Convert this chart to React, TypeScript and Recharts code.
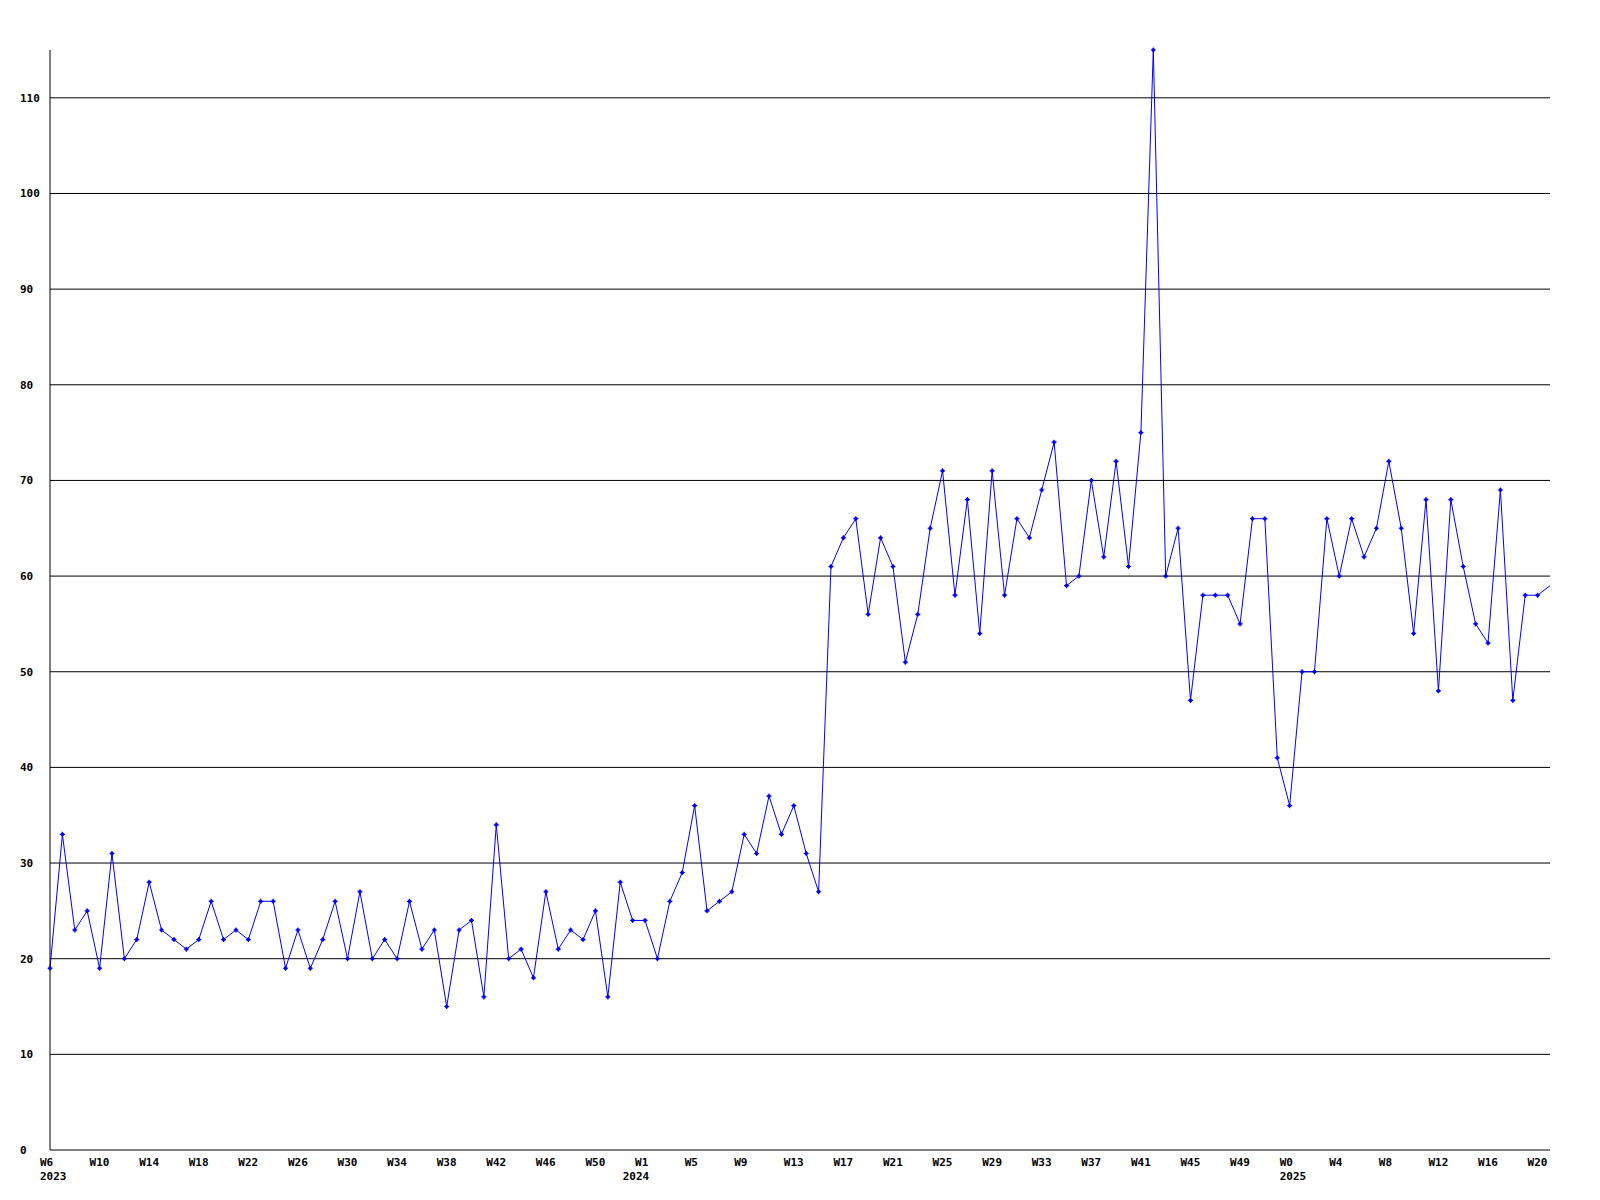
import { LineChart, Line, XAxis, YAxis, ReferenceLine } from "recharts";

// weekly counts, one array per year
const counts2023 = [
  19, 33, 23, 25, 19, 31, 20, 22, 28, 23, 22, 21, 22, 26, 22, 23, 22, 26, 26, 19,
  23, 19, 22, 26, 20, 27, 20, 22, 20, 26, 21, 23, 15, 23, 24, 16, 34, 20, 21, 18,
  27, 21, 23, 22, 25, 16, 28,
];
const counts2024 = [
  24, 24, 20, 26, 29, 36, 25, 26, 27, 33, 31, 37, 33, 36, 31, 27, 61, 64, 66, 56,
  64, 61, 51, 56, 65, 71, 58, 68, 54, 71, 58, 66, 64, 69, 74, 59, 60, 70, 62, 72,
  61, 75, 115, 60, 65, 47, 58, 58, 58, 55, 66, 66, 41,
];
const counts2025 = [36, 50, 50, 66, 60, 66, 62, 65, 72, 65, 54, 68, 48, 68, 61, 55, 53, 69, 47, 58, 58, 59];

const years = ["2023", "2024", "2025"];
const firstWeeks = [6, 0, 0];
const yearCounts = [counts2023, counts2024, counts2025];

const yTicks = [0, 10, 20, 30, 40, 50, 60, 70, 80, 90, 100, 110];
const weekTickStep = 4;

const data = years
  .flatMap((year, y) =>
    yearCounts[y].map((value, k) => ({ year, week: `W${firstWeeks[y] + k}`, value }))
  )
  .map((d, i) => ({ ...d, i }));

const isYearStart = (i: number) => i === 0 || data[i - 1].year !== data[i].year;
const xTicks = data.filter((d) => d.i % weekTickStep === 0 || isYearStart(d.i)).map((d) => d.i);
const lastIndex = data.length - 1;

const FONT = "'DejaVu Sans Mono', monospace";

const XTick = ({ x, y, payload }: any) => {
  const i = payload.value as number;
  const d = data[i];
  if (!d) return null;
  return (
    <g>
      {i % weekTickStep === 0 && (
        <text x={x - 10} y={y + 16} textAnchor="start" fontFamily={FONT} fontWeight="bold" fontSize={11} fill="#000">
          {d.week}
        </text>
      )}
      {isYearStart(i) && (
        <text x={x - 10} y={y + 30} textAnchor="start" fontFamily={FONT} fontWeight="bold" fontSize={11} fill="#000">
          {d.year}
        </text>
      )}
    </g>
  );
};

const YTick = ({ x, y, payload }: any) => (
  <text x={x - 30} y={y + 4} textAnchor="start" fontFamily={FONT} fontWeight="bold" fontSize={11} fill="#000">
    {payload.value}
  </text>
);

const Marker = ({ cx, cy, index }: any) => {
  if (index === lastIndex || cx == null) return <g key={index} />;
  return (
    <g key={index}>
      <path d={`M${cx - 2.5},${cy}H${cx + 2.5}M${cx},${cy - 2.5}V${cy + 2.5}`} stroke="#0000ff" strokeWidth={1.2} />
      <rect x={cx - 1.5} y={cy - 1.5} width={3} height={3} fill="#0000ff" />
    </g>
  );
};

export default function App() {
  return (
    <div style={{ position: "absolute", left: 0, top: 0, width: 1600, height: 1200, background: "#fff" }}>
      <LineChart width={1600} height={1200} data={data} margin={{ top: 50, right: 50, bottom: 0, left: 20 }}>
        <XAxis
          type="number"
          dataKey="i"
          domain={[0, lastIndex]}
          ticks={xTicks}
          interval={0}
          height={50}
          tickLine={false}
          tickSize={0}
          tickMargin={0}
          axisLine={{ stroke: "#000" }}
          tick={<XTick />}
        />
        <YAxis
          type="number"
          domain={[0, "dataMax"]}
          ticks={yTicks}
          interval={0}
          width={30}
          tickLine={false}
          tickSize={0}
          tickMargin={0}
          axisLine={{ stroke: "#000" }}
          tick={<YTick />}
        />
        {/* horizontal grid only at labelled ticks, no line at the top edge */}
        {yTicks.slice(1).map((t) => (
          <ReferenceLine key={t} y={t} stroke="#000" strokeWidth={1} />
        ))}
        <Line
          type="linear"
          dataKey="value"
          stroke="#0000ff"
          strokeWidth={1}
          dot={<Marker />}
          activeDot={false}
          isAnimationActive={false}
        />
      </LineChart>
    </div>
  );
}
